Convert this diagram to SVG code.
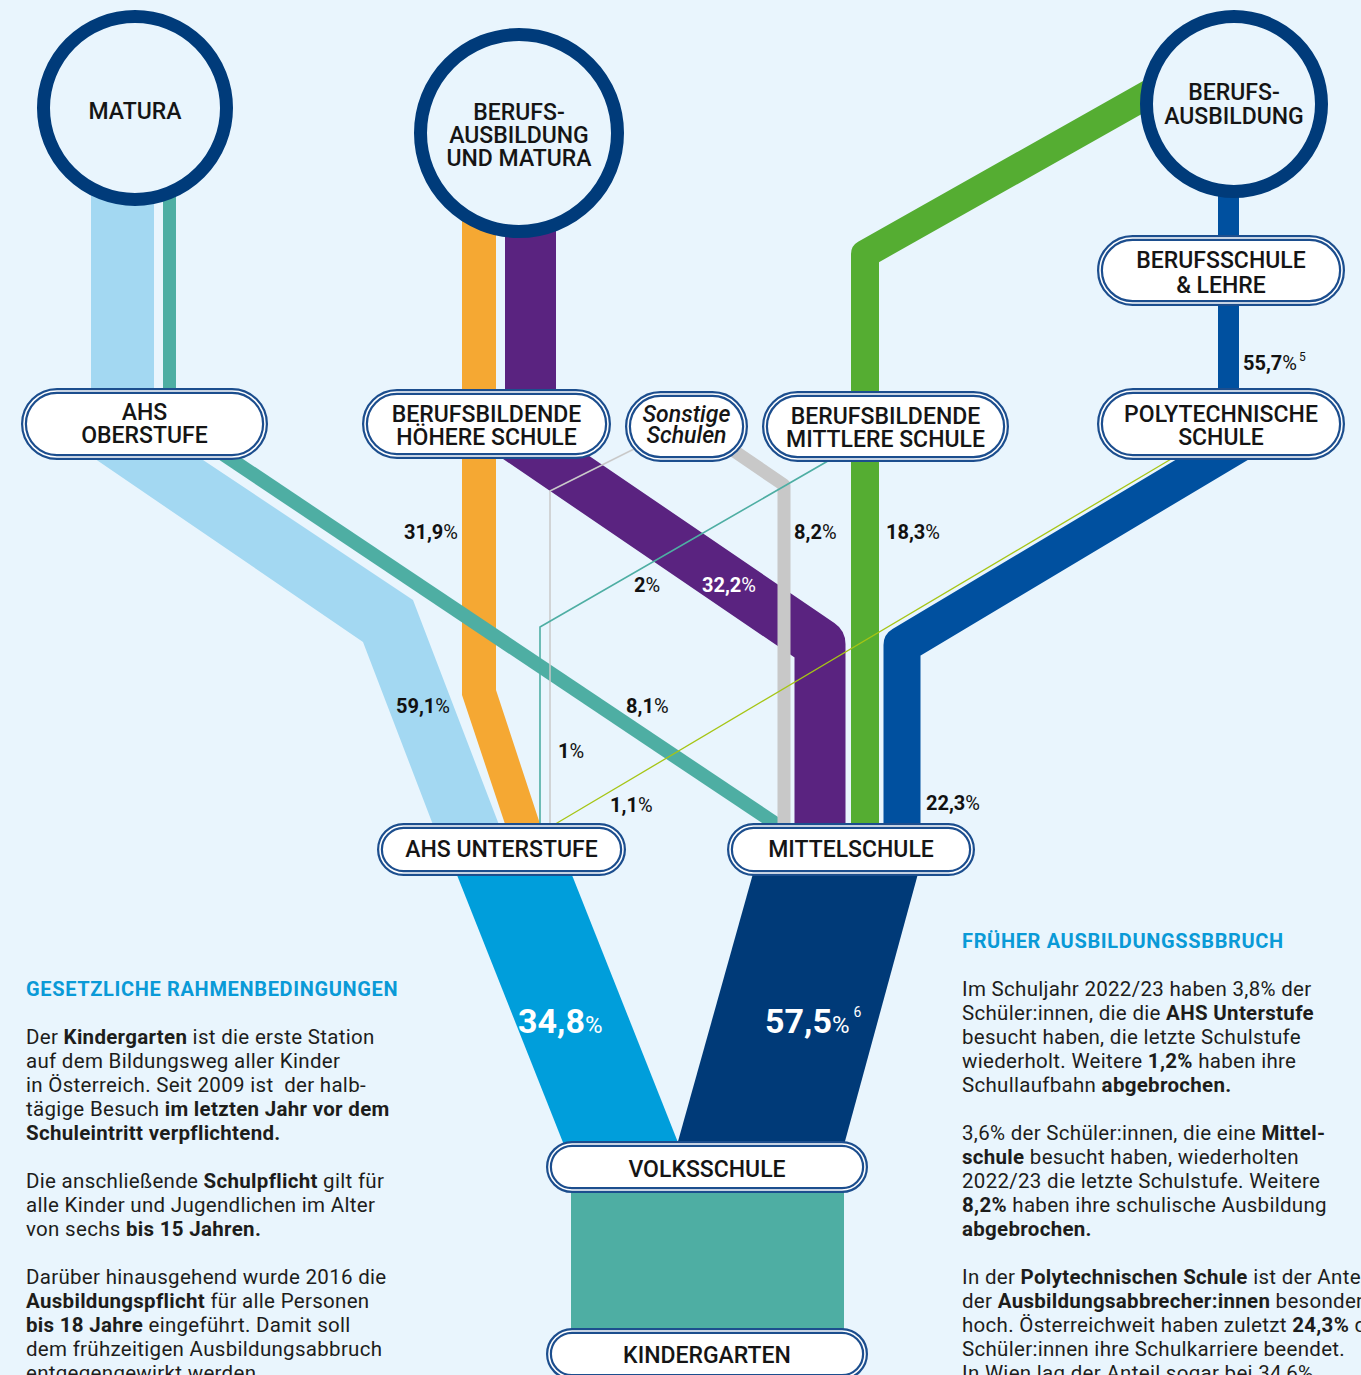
<svg xmlns="http://www.w3.org/2000/svg" width="1361" height="1375" viewBox="0 0 1361 1375">
<defs>
<style>
.ring{fill:#e9f5fd;stroke:#003b7a;stroke-width:13}
.pill{fill:#fff;stroke:#1c4e8e;stroke-width:6}
.pin{fill:none;stroke:#fff;stroke-width:1.6}
.nt{font-family:Roboto,"Liberation Sans",sans-serif;font-weight:500;font-size:23px;fill:#151515;text-anchor:middle}
.it{font-style:italic}
.pc{font-family:Roboto,"Liberation Sans",sans-serif;font-weight:700;font-size:20px;fill:#111}
.r{font-weight:400}
.w{fill:#fff}
.big{font-size:34px}
.body{font-family:Roboto,"Liberation Sans",sans-serif;font-size:20.5px;letter-spacing:0.3px;fill:#1d1d1b}
.b{font-weight:700}
.hd{font-family:Roboto,"Liberation Sans",sans-serif;font-size:20px;letter-spacing:0.65px;font-weight:700;fill:#0a9ad7}
.s{fill:none;stroke-linejoin:round}
</style>
</defs>
<rect x="0" y="0" width="1361" height="1375" fill="#e9f5fd"/>

<g id="connectors">
  <rect x="91" y="180" width="63" height="215" fill="#a3d8f2"/>
  <rect x="163" y="180" width="13" height="215" fill="#4eaea3"/>
  <polygon points="85,452 191,452 413,600 501,830 435,830 363,642" fill="#a3d8f2"/>
  <polygon points="462,200 496,200 496,690 542,830 507,830 462,695" fill="#f5a833"/>
  <line x1="208" y1="444" x2="785" y2="830" stroke="#4eaea3" stroke-width="14"/>
  <rect x="505" y="200" width="51" height="195" fill="#5a2380"/>
  <polyline class="s" points="500,426 820,644 820,830" stroke="#5a2380" stroke-width="51"/>
  <polyline class="s" points="715,438 784,485 784,830" stroke="#c8c8c8" stroke-width="13"/>
  <polyline class="s" points="865,830 865,254 1200,65" stroke="#55ad32" stroke-width="28"/>
  <rect x="1218" y="180" width="21" height="215" fill="#00509f"/>
  <polyline class="s" points="1250,437 902,645 902,830" stroke="#00509f" stroke-width="37"/>
  <polyline class="s" points="640,446 550,491 550,830" stroke="#c9c9c9" stroke-width="1.5"/>
  <polyline class="s" points="840,454 540,627 540,830" stroke="#4eaea3" stroke-width="1.6"/>
  <line x1="1183" y1="452" x2="552" y2="826" stroke="#a6c515" stroke-width="1.3"/>
  <polygon points="455,870 570,870 679,1145 564,1145" fill="#009edb"/>
  <polygon points="754,870 919,870 844,1145 677,1145" fill="#003a78"/>
  <rect x="571" y="1185" width="273" height="150" fill="#4eaea3"/>
</g>

<g id="labels">
  <text class="pc" x="404" y="539">31,9<tspan class="r">%</tspan></text>
  <text class="pc" x="396" y="713">59,1<tspan class="r">%</tspan></text>
  <text class="pc" x="634" y="592">2<tspan class="r">%</tspan></text>
  <text class="pc w" x="702" y="592">32,2<tspan class="r">%</tspan></text>
  <text class="pc" x="794" y="539">8,2<tspan class="r">%</tspan></text>
  <text class="pc" x="886" y="539">18,3<tspan class="r">%</tspan></text>
  <text class="pc" x="626" y="713">8,1<tspan class="r">%</tspan></text>
  <text class="pc" x="558" y="758">1<tspan class="r">%</tspan></text>
  <text class="pc" x="610" y="812">1,1<tspan class="r">%</tspan></text>
  <text class="pc" x="926" y="810">22,3<tspan class="r">%</tspan></text>
  <text class="pc" x="1243" y="370">55,7<tspan class="r">%</tspan><tspan class="r" font-size="12" dx="2" dy="-9">5</tspan></text>
  <text class="pc w big" x="518" y="1033">34,8<tspan class="r" font-size="24">%</tspan></text>
  <text class="pc w big" x="765" y="1033">57,5<tspan class="r" font-size="24">%</tspan><tspan class="r" font-size="14" dx="4" dy="-16">6</tspan></text>
</g>

<g id="matura">
  <circle class="ring" cx="135" cy="108" r="91.5"/>
  <text class="nt" x="135" y="119">MATURA</text>
</g>
<g id="berufsausbildung-und-matura">
  <circle class="ring" cx="519" cy="133" r="98.5"/>
  <text class="nt" x="519" y="120">BERUFS-<tspan x="519" dy="23">AUSBILDUNG</tspan><tspan x="519" dy="23">UND MATURA</tspan></text>
</g>
<g id="berufsausbildung">
  <circle class="ring" cx="1234" cy="104" r="87.5"/>
  <text class="nt" x="1234" y="100">BERUFS-<tspan x="1234" dy="24">AUSBILDUNG</tspan></text>
</g>

<g id="ahs-oberstufe">
  <rect class="pill" x="24" y="391" width="241" height="66" rx="33"/>
  <rect class="pin" x="24" y="391" width="241" height="66" rx="33"/>
  <text class="nt" x="144.5" y="420">AHS<tspan x="144.5" dy="23">OBERSTUFE</tspan></text>
</g>
<g id="bhs">
  <rect class="pill" x="365" y="392" width="243" height="64" rx="32"/>
  <rect class="pin" x="365" y="392" width="243" height="64" rx="32"/>
  <text class="nt" x="486.5" y="422">BERUFSBILDENDE<tspan x="486.5" dy="23">HÖHERE SCHULE</tspan></text>
</g>
<g id="sonstige">
  <rect class="pill" x="628" y="394" width="117" height="65" rx="32.5"/>
  <rect class="pin" x="628" y="394" width="117" height="65" rx="32.5"/>
  <text class="nt it" x="686.5" y="422">Sonstige<tspan x="686.5" dy="21">Schulen</tspan></text>
</g>
<g id="bms">
  <rect class="pill" x="765" y="394" width="241" height="65" rx="32.5"/>
  <rect class="pin" x="765" y="394" width="241" height="65" rx="32.5"/>
  <text class="nt" x="885.5" y="424">BERUFSBILDENDE<tspan x="885.5" dy="23">MITTLERE SCHULE</tspan></text>
</g>
<g id="berufsschule">
  <rect class="pill" x="1100" y="238" width="242" height="65" rx="32.5"/>
  <rect class="pin" x="1100" y="238" width="242" height="65" rx="32.5"/>
  <text class="nt" x="1221" y="268">BERUFSSCHULE<tspan x="1221" dy="25">&amp; LEHRE</tspan></text>
</g>
<g id="poly">
  <rect class="pill" x="1100" y="391" width="242" height="66" rx="33"/>
  <rect class="pin" x="1100" y="391" width="242" height="66" rx="33"/>
  <text class="nt" x="1221" y="422">POLYTECHNISCHE<tspan x="1221" dy="23">SCHULE</tspan></text>
</g>
<g id="ahs-unterstufe">
  <rect class="pill" x="380" y="826" width="243" height="47" rx="23.5"/>
  <rect class="pin" x="380" y="826" width="243" height="47" rx="23.5"/>
  <text class="nt" x="501.5" y="857">AHS UNTERSTUFE</text>
</g>
<g id="mittelschule">
  <rect class="pill" x="730" y="826" width="242" height="47" rx="23.5"/>
  <rect class="pin" x="730" y="826" width="242" height="47" rx="23.5"/>
  <text class="nt" x="851" y="857">MITTELSCHULE</text>
</g>
<g id="volksschule">
  <rect class="pill" x="549" y="1144" width="316" height="46" rx="23"/>
  <rect class="pin" x="549" y="1144" width="316" height="46" rx="23"/>
  <text class="nt" x="707" y="1177">VOLKSSCHULE</text>
</g>
<g id="kindergarten">
  <rect class="pill" x="549" y="1331" width="316" height="46" rx="23"/>
  <rect class="pin" x="549" y="1331" width="316" height="46" rx="23"/>
  <text class="nt" x="707" y="1363">KINDERGARTEN</text>
</g>

<g id="text-left">
  <text class="hd" x="26" y="996">GESETZLICHE RAHMENBEDINGUNGEN</text>
  <text class="body" x="26" y="1044">Der <tspan class="b">Kindergarten</tspan> ist die erste Station</text>
  <text class="body" x="26" y="1068">auf dem Bildungsweg aller Kinder</text>
  <text class="body" x="26" y="1092" xml:space="preserve">in Österreich. Seit 2009 ist  der halb-</text>
  <text class="body" x="26" y="1116">tägige Besuch <tspan class="b">im letzten Jahr vor dem</tspan></text>
  <text class="body b" x="26" y="1140">Schuleintritt verpflichtend.</text>
  <text class="body" x="26" y="1188">Die anschließende <tspan class="b">Schulpflicht</tspan> gilt für</text>
  <text class="body" x="26" y="1212">alle Kinder und Jugendlichen im Alter</text>
  <text class="body" x="26" y="1236">von sechs <tspan class="b">bis 15 Jahren.</tspan></text>
  <text class="body" x="26" y="1284">Darüber hinausgehend wurde 2016 die</text>
  <text class="body" x="26" y="1308"><tspan class="b">Ausbildungspflicht</tspan> für alle Personen</text>
  <text class="body" x="26" y="1332"><tspan class="b">bis 18 Jahre</tspan> eingeführt. Damit soll</text>
  <text class="body" x="26" y="1356">dem frühzeitigen Ausbildungsabbruch</text>
  <text class="body" x="26" y="1380">entgegengewirkt werden.</text>
</g>

<g id="text-right">
  <text class="hd" x="962" y="948">FRÜHER AUSBILDUNGSSBBRUCH</text>
  <text class="body" x="962" y="996">Im Schuljahr 2022/23 haben 3,8% der</text>
  <text class="body" x="962" y="1020">Schüler:innen, die die <tspan class="b">AHS Unterstufe</tspan></text>
  <text class="body" x="962" y="1044">besucht haben, die letzte Schulstufe</text>
  <text class="body" x="962" y="1068">wiederholt. Weitere <tspan class="b">1,2%</tspan> haben ihre</text>
  <text class="body" x="962" y="1092">Schullaufbahn <tspan class="b">abgebrochen.</tspan></text>
  <text class="body" x="962" y="1140">3,6% der Schüler:innen, die eine <tspan class="b">Mittel-</tspan></text>
  <text class="body" x="962" y="1164"><tspan class="b">schule</tspan> besucht haben, wiederholten</text>
  <text class="body" x="962" y="1188">2022/23 die letzte Schulstufe. Weitere</text>
  <text class="body" x="962" y="1212"><tspan class="b">8,2%</tspan> haben ihre schulische Ausbildung</text>
  <text class="body b" x="962" y="1236">abgebrochen.</text>
  <text class="body" x="962" y="1284">In der <tspan class="b">Polytechnischen Schule</tspan> ist der Ante</text>
  <text class="body" x="962" y="1308">der <tspan class="b">Ausbildungsabbrecher:innen</tspan> besonder</text>
  <text class="body" x="962" y="1332">hoch. Österreichweit haben zuletzt <tspan class="b">24,3%</tspan> de</text>
  <text class="body" x="962" y="1356">Schüler:innen ihre Schulkarriere beendet.</text>
  <text class="body" x="962" y="1380">In Wien lag der Anteil sogar bei 34,6%.</text>
</g>
</svg>
